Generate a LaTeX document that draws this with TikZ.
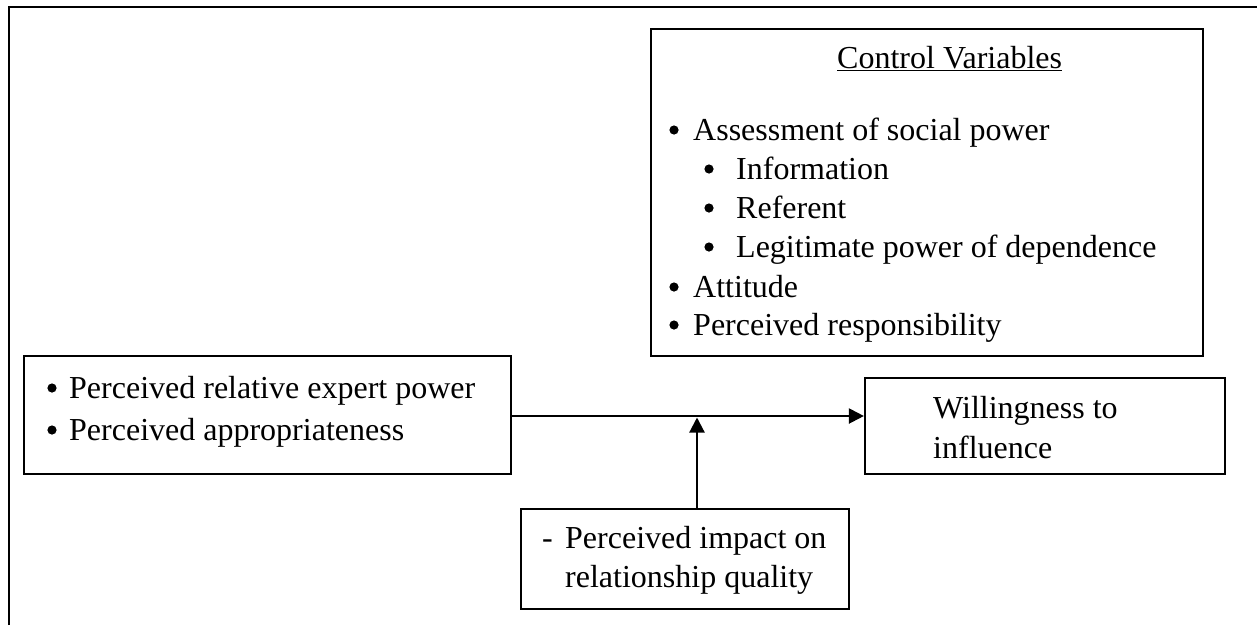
\documentclass[tikz,border=0pt]{standalone}
\usepackage{fontspec}
\setmainfont{Liberation Serif}
\usetikzlibrary{arrows.meta}
\begin{document}
\begin{tikzpicture}[x=1pt,y=-1pt,
  box/.style={draw, line width=2.2pt, rectangle, inner sep=0pt},
  txt/.style={anchor=base west, inner sep=0pt, font=\fontsize{32}{39}\selectfont},
  arr/.style={line width=2.2pt, -{Triangle[length=15pt,width=15pt]}},
  dot/.style={fill=black}]
\useasboundingbox (0,0) rectangle (1257,625);
% outer frame
\draw[line width=2.8pt] (9,625) -- (9,7) -- (1257,7);
% boxes
\node[box, minimum width=552pt, minimum height=327pt] (ctrl) at (927,192.5) {};
\node[box, minimum width=487pt, minimum height=118pt] (left) at (267.5,415) {};
\node[box, minimum width=360pt, minimum height=96pt] (will) at (1045,426) {};
\node[box, minimum width=328pt, minimum height=100pt] (bot) at (685,559) {};
% control variables text
\node[txt] (ctitle) at (837,68) {\underline{Control Variables}};
\node[txt] (c1) at (693,140) {Assessment of social power};
\node[txt] (c2) at (736,179) {Information};
\node[txt] (c3) at (736,218) {Referent};
\node[txt] (c4) at (736,257) {Legitimate power of dependence};
\node[txt] (c5) at (693,297) {Attitude};
\node[txt] (c6) at (693,335) {Perceived responsibility};
\foreach \x/\y in {674/140, 709/179, 709/218, 709/257, 674/297, 674/335, 52/398, 52/440}
  \fill[dot] (\x,\y-10) circle (4.6pt);
% left box text
\node[txt] (l1) at (69,398) {Perceived relative expert power};
\node[txt] (l2) at (69,440) {Perceived appropriateness};
% willingness text
\node[txt] (w1) at (933,418) {Willingness to};
\node[txt] (w2) at (933,458) {influence};
% bottom text
\node[txt] (b1) at (542,548) {\makebox[23pt][l]{-}Perceived impact on};
\node[txt] (b2) at (565,587) {relationship quality};
% connectors
\coordinate (m) at (697,416);
\coordinate (mt) at (697,417.5);
\draw[arr] (left.east |- m) -- (will.west |- m);
\draw[arr] (bot.north -| m) -- (mt);
\end{tikzpicture}
\end{document}
